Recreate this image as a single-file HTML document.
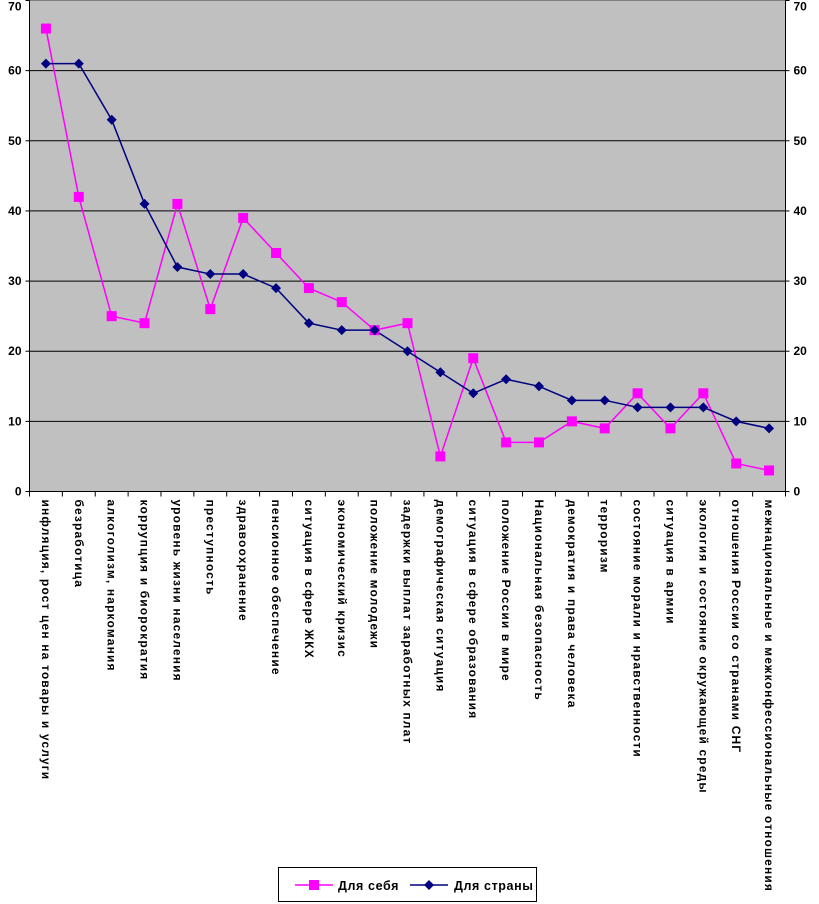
<!DOCTYPE html>
<html><head><meta charset="utf-8"><style>
body{margin:0;background:#fff;}
svg{display:block;font-family:"Liberation Sans","DejaVu Sans",sans-serif;}
</style></head><body>
<svg id="chart" width="819" height="904">
<g id="grid"></g><g id="series"></g><g id="labels"></g>
<g>
<rect x="278.5" y="867.5" width="258" height="34" fill="#fff" stroke="#000"/>
<line x1="295" y1="885" x2="333" y2="885" stroke="#ff00ff" stroke-width="1.5"/>
<rect x="309" y="880" width="10" height="10" fill="#ff00ff"/>
<text x="338" y="890" font-size="12.5" font-weight="bold" letter-spacing="0.6">Для себя</text>
<line x1="410" y1="885" x2="448" y2="885" stroke="#000080" stroke-width="1.5"/>
<polygon points="429,880 434,885 429,890 424,885" fill="#000080"/>
<text x="454" y="890" font-size="12.5" font-weight="bold" letter-spacing="0.6">Для страны</text>
</g>
</svg>
<script>
const categories=["инфляция, рост цен на товары и услуги","безработица","алкоголизм, наркомания","коррупция и биорократия","уровень жизни населения","преступность","здравоохранение","пенсионное обеспечение","ситуация в сфере ЖКХ","экономический кризис","положение молодежи","задержки выплат заработных плат","демографическая ситуация","ситуация в сфере образования","положение России в мире","Национальная безопасность","демократия и права человека","терроризм","состояние морали и нравственности","ситуация в армии","экология и состояние окружающей среды","отношения России со странами СНГ","межнациональные и межконфессиональные отношения"];
const selfValues=[66,42,25,24,41,26,39,34,29,27,23,24,5,19,7,7,10,9,14,9,14,4,3];
const countryValues=[61,61,53,41,32,31,31,29,24,23,23,20,17,14,16,15,13,13,12,12,12,10,9];
const ticks=[0,10,20,30,40,50,60,70];
const NS="http://www.w3.org/2000/svg";
const L=29.5,R=785.5,T=0.5,B=491.5;
const band=(R-L)/categories.length;
const xs=i=>L+band*(i+0.5);
const ys=v=>B-(B-T)*v/70;
function mk(t,a,p){const e=document.createElementNS(NS,t);for(const k in a)e.setAttribute(k,a[k]);p.appendChild(e);return e;}
const g=document.getElementById('grid');
const bg=mk('rect',{x:L,y:T,width:R-L,height:B-T,fill:'#c0c0c0',stroke:'#808080'},g);


ticks.forEach(t=>{
 const y=ys(t);
 if(t>0&&t<70){const ln=mk('line',{x1:L,x2:R,y1:y,y2:y,stroke:'#000'},g);
 
 }
 mk('line',{x1:L-4,x2:L,y1:y,y2:y,stroke:'#000'},g);
 mk('line',{x1:R,x2:R+4,y1:y,y2:y,stroke:'#000'},g);
 const a=mk('text',{x:L-8,y:y+(t==70?10:4),'text-anchor':'end','font-size':12,'font-weight':'bold'},g);a.textContent=t;
 
 
 const b=mk('text',{x:R+8,y:y+(t==70?10:4),'font-size':12,'font-weight':'bold'},g);b.textContent=t;
 
 
});
mk('line',{x1:L,x2:L,y1:T,y2:B,stroke:'#000'},g);
mk('line',{x1:R,x2:R,y1:T,y2:B,stroke:'#000'},g);
mk('line',{x1:L,x2:R,y1:B,y2:B,stroke:'#000'},g);
for(let i=0;i<=categories.length;i++){const x=L+band*i;mk('line',{x1:x,x2:x,y1:B,y2:B+5,stroke:'#000'},g);}
const lab=document.getElementById('labels');
categories.forEach((c,i)=>{
 const t=mk('text',{transform:`translate(${xs(i)-4},${B+8}) rotate(90)`,'font-size':12,'font-weight':'bold','letter-spacing':1.15},lab);
 t.textContent=c;
 
 
});
const s=document.getElementById('series');
function line(vals,col,name){
 const p=mk('polyline',{points:vals.map((v,i)=>xs(i)+','+ys(v)).join(' '),fill:'none',stroke:col,'stroke-width':1.5},s);
 
 
}
line(selfValues,'#ff00ff','self');
line(countryValues,'#000080','country');
selfValues.forEach((v,i)=>{const r=mk('rect',{x:xs(i)-5,y:ys(v)-5,width:10,height:10,fill:'#ff00ff'},s);
 
 });
countryValues.forEach((v,i)=>{const x=xs(i),y=ys(v);const p=mk('polygon',{points:`${x},${y-5} ${x+5},${y} ${x},${y+5} ${x-5},${y}`,fill:'#000080'},s);
 
 });
</script>
</body></html>
